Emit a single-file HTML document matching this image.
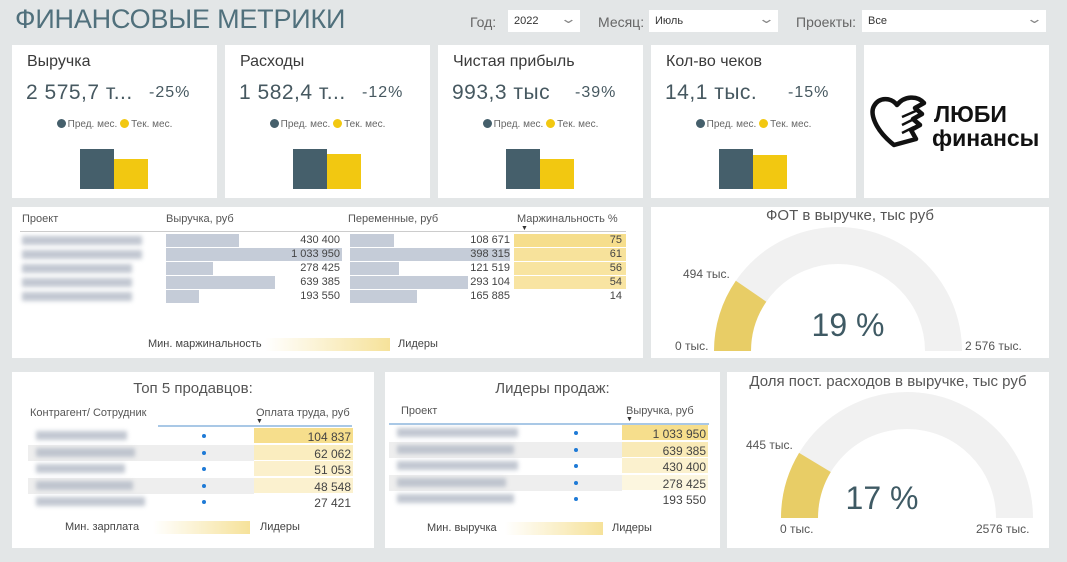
<!DOCTYPE html>
<html><head><meta charset="utf-8">
<style>
*{margin:0;padding:0;box-sizing:border-box}
body{width:1067px;height:562px;background:#e3e6e7;font-family:"Liberation Sans",sans-serif;position:relative;overflow:hidden;color:#444}
.abs{position:absolute}
.panel{position:absolute;background:#fff}
.title{left:15px;top:4px;font-size:27px;color:#50707c;letter-spacing:-0.2px}
.flab{font-size:14px;color:#666;top:14px}
.dd{background:#fff;height:22px;top:10px;font-size:11px;color:#333;padding:5px 6px}
.dd span.ch{position:absolute;right:6px;top:1px;color:#888;font-size:13px;transform:scaleX(1.6)}
.kt{font-size:16px;color:#3a3a3a;position:absolute;left:15px;top:8px}
.kv{font-size:21px;color:#465860;position:absolute;left:14px;top:36px;letter-spacing:0.5px}
.kp{font-size:16px;color:#465860;position:absolute;left:137px;top:39px;letter-spacing:1px}
.leg{position:absolute;top:74px;left:0;width:205px;text-align:center;font-size:10px;color:#666}
.dot{display:inline-block;width:9px;height:9px;border-radius:50%;vertical-align:-1px;margin-right:2px}
.hd{font-size:11px;color:#555;position:absolute}
.num{font-size:11px;color:#444;position:absolute;text-align:right}
.blur{position:absolute;height:9px;background:#b3bac6;filter:blur(2px);opacity:.8}
.grad{position:absolute;height:13px;background:linear-gradient(90deg,#fff,#f6e29a)}
.lt{position:absolute;font-size:11px;color:#444}
.gt{position:absolute;font-size:15px;color:#555;text-align:center}
.gl{position:absolute;font-size:12px;color:#555}
.gv{position:absolute;font-size:32px;color:#3f5a64;text-align:center}
</style></head><body>
<div class="abs title">ФИНАНСОВЫЕ МЕТРИКИ</div>
<div class="abs flab" style="left:470px">Год:</div>
<div class="abs dd" style="left:508px;width:72px">2022<span class="ch">⌄</span></div>
<div class="abs flab" style="left:598px">Месяц:</div>
<div class="abs dd" style="left:649px;width:129px">Июль<span class="ch">⌄</span></div>
<div class="abs flab" style="left:796px">Проекты:</div>
<div class="abs dd" style="left:862px;width:184px">Все<span class="ch">⌄</span></div>

<div id="kpis"></div>

<div class="panel" style="left:864px;top:45px;width:185px;height:153px">
<svg width="185" height="153">
<path d="M30 100 C10 84 6 68 10 61 C15 52 27 52 33 60 C40 51 53 50 60 58 L51 63 L58 69 L49 74 L56 80 L47 85 L52 94 Z" fill="none" stroke="#111" stroke-width="4.5" stroke-linejoin="round"/>
<path d="M38 72 L54 65 M38 80 L52 73 M38 88 L50 82" stroke="#111" stroke-width="2.5"/>
<text x="70" y="77" font-family="Liberation Sans" font-weight="bold" font-size="23" fill="#111">ЛЮБИ</text>
<text x="68" y="101" font-family="Liberation Sans" font-weight="bold" font-size="23" fill="#111">финансы</text>
</svg></div>

<div class="panel" style="left:12px;top:207px;width:631px;height:151px" id="tbl">
<div class="hd" style="left:10px;top:6px">Проект</div>
<div class="hd" style="left:154px;top:6px">Выручка, руб</div>
<div class="hd" style="left:336px;top:6px">Переменные, руб</div>
<div class="hd" style="left:505px;top:6px">Маржинальность %</div>
<div class="abs" style="left:509px;top:18px;font-size:7px;color:#333">▼</div>
<div class="abs" style="left:8px;top:24px;width:606px;height:1px;background:#ccc"></div>
<div class="lt" style="left:136px;top:131px">Мин. маржинальность</div>
<div class="grad" style="left:253px;top:131px;width:125px"></div>
<div class="lt" style="left:386px;top:131px">Лидеры</div>
</div>

<div class="panel" style="left:12px;top:372px;width:362px;height:176px" id="sellers">
<div class="gt" style="left:0;width:362px;top:8px">Топ 5 продавцов:</div>
<div class="hd" style="left:18px;top:35px">Контрагент/ Сотрудник</div>
<div class="hd" style="left:244px;top:35px">Оплата труда, руб</div>
<div class="abs" style="left:244px;top:46px;font-size:7px;color:#333">▼</div>
<div class="abs" style="left:146px;top:53px;width:194px;height:2px;background:#a9c8e6"></div>
<div class="lt" style="left:53px;top:149px">Мин. зарплата</div>
<div class="grad" style="left:141px;top:149px;width:97px"></div>
<div class="lt" style="left:248px;top:149px">Лидеры</div>
</div>

<div class="panel" style="left:385px;top:372px;width:335px;height:176px" id="leaders">
<div class="gt" style="left:0;width:335px;top:8px">Лидеры продаж:</div>
<div class="hd" style="left:16px;top:33px">Проект</div>
<div class="hd" style="left:241px;top:33px">Выручка, руб</div>
<div class="abs" style="left:241px;top:44px;font-size:7px;color:#333">▼</div>
<div class="abs" style="left:4px;top:51px;width:320px;height:2px;background:#a9c8e6"></div>
<div class="lt" style="left:42px;top:150px">Мин. выручка</div>
<div class="grad" style="left:120px;top:150px;width:98px"></div>
<div class="lt" style="left:227px;top:150px">Лидеры</div>
</div>

<div class="panel" style="left:651px;top:207px;width:398px;height:151px" id="g1"></div>
<div class="panel" style="left:727px;top:372px;width:322px;height:176px" id="g2"></div>

<script>
// KPI data
const kpiTitles=["Выручка","Расходы","Чистая прибыль","Кол-во чеков"];
const kpiValues=["2 575,7 т...","1 582,4 т...","993,3 тыс","14,1 тыс."];
const kpiPct=["-25%","-12%","-39%","-15%"];
const kpiPrev=[3434,1798,1330,16.6];
const kpiCur=[2575.7,1582.4,993.3,14.1];

// project table data
const projNames=["Жилой комплекс Шелковый","Жилой комплекс Царицыно","Солнечные Лодочки","Жилой комплекс Тёплый","Жилой комплекс Лесной"];
const projRevenue=[430400,1033950,278425,639385,193550];
const projVariable=[108671,398315,121519,293104,165885];
const projMargin=[75,61,56,54,14];
const projRevLabels=["430 400","1 033 950","278 425","639 385","193 550"];
const projVarLabels=["108 671","398 315","121 519","293 104","165 885"];

// sellers
const sellerNames=["Пр. Иван","Пр. Виктория","Пр.Илья","Пр. Евгений","Пр. Марина Булаев"];
const sellerPay=[104837,62062,51053,48548,27421];
const sellerLabels=["104 837","62 062","51 053","48 548","27 421"];

// sales leaders
const leaderNames=["Жилой комплекс Царицыно","Жилой комплекс Тёплый","Жилой комплекс Шелковый","Солнечные Лодочки","Жилой комплекс Лесной"];
const leaderRevenue=[1033950,639385,430400,278425,193550];
const leaderLabels=["1 033 950","639 385","430 400","278 425","193 550"];

// gauges
const gaugeTitles=["ФОТ в выручке, тыс руб","Доля пост. расходов в выручке, тыс руб"];
const gaugeValues=[494,445];
const gaugeMax=[2576,2576];
const gaugeValLabels=["494 тыс.","445 тыс."];
const gaugeMaxLabels=["2 576 тыс.","2576 тыс."];
const gaugePct=["19 %","17 %"];

function yel(t){
  const r=Math.round(255+(246-255)*t),g=Math.round(255+(222-255)*t),b=Math.round(255+(140-255)*t);
  return `rgb(${r},${g},${b})`;
}

const kx=[12,225,438,651];
const kpis=document.getElementById('kpis');
kpiTitles.forEach((t,i)=>{
  const p=document.createElement('div');
  p.className='panel';
  p.style.cssText=`left:${kx[i]}px;top:45px;width:205px;height:153px`;
  
  
  const mx=Math.max(kpiPrev[i],kpiCur[i]);
  const hP=40*kpiPrev[i]/mx, hC=40*kpiCur[i]/mx;
  p.innerHTML=`<div class="kt">${t}</div><div class="kv">${kpiValues[i]}</div><div class="kp">${kpiPct[i]}</div>
  <div class="leg"><span class="dot" style="background:#455f6b"></span>Пред. мес. <span class="dot" style="background:#f2c811"></span>Тек. мес.</div>
  <div class="abs bp" style="left:68px;top:${144-hP}px;width:34px;height:${hP}px;background:#455f6b"></div>
  <div class="abs bc" style="left:102px;top:${144-hC}px;width:34px;height:${hC}px;background:#f2c811"></div>`;
  kpis.appendChild(p);
  p.querySelector('.kt');
  p.querySelector('.kt');
  p.querySelector('.kv');
  p.querySelector('.kv');
  p.querySelector('.kp');
  p.querySelector('.kp');
  p.querySelector('.bp');
  p.querySelector('.bp');
  p.querySelector('.bc');
  p.querySelector('.bc');
});

const tbl=document.getElementById('tbl');
const rMax=Math.max(...projRevenue), vMax=Math.max(...projVariable);
const mMin=Math.min(...projMargin), mMx=Math.max(...projMargin);
projNames.forEach((n,i)=>{
  const y=27+i*14;
  const b=document.createElement('div');
  b.className='blur';b.style.cssText+=`left:10px;top:${y+2}px;width:${105+n.length%4*5}px`;
  
  
  tbl.appendChild(b);
  const rb=document.createElement('div');
  rb.className='abs';rb.style.cssText=`left:154px;top:${y}px;height:13px;width:${176*projRevenue[i]/rMax}px;background:#c5ccd8`;
  
  
  tbl.appendChild(rb);
  const rn=document.createElement('div');
  rn.className='num';rn.style.cssText+=`left:228px;width:100px;top:${y}px`;rn.textContent=projRevLabels[i];
  
  
  tbl.appendChild(rn);
  const vb=document.createElement('div');
  vb.className='abs';vb.style.cssText=`left:338px;top:${y}px;height:13px;width:${160*projVariable[i]/vMax}px;background:#c5ccd8`;
  
  
  tbl.appendChild(vb);
  const vn=document.createElement('div');
  vn.className='num';vn.style.cssText+=`left:398px;width:100px;top:${y}px`;vn.textContent=projVarLabels[i];
  
  
  tbl.appendChild(vn);
  const t=(projMargin[i]-mMin)/(mMx-mMin);
  const mc=document.createElement('div');
  mc.className='num';mc.style.cssText+=`left:502px;width:112px;top:${y}px;height:13px;padding-right:4px;background:${t>0?yel(0.45+0.55*t):'#fff'}`;mc.textContent=projMargin[i];
  
  
  tbl.appendChild(mc);
});

function rankTable(host,names,vals,labels,y0,dotX,cellL,cellW,rowW){
  const mn=Math.min(...vals),mx=Math.max(...vals);
  names.forEach((n,i)=>{
    const y=y0+i*16.5;
    const row=document.createElement('div');
    row.className='abs';row.style.cssText=`left:${cellL-rowW}px;top:${y}px;width:${rowW}px;height:16px;background:${i%2?'#eeeeee':'#fff'}`;
    
    
    host.appendChild(row);
    const b=document.createElement('div');
    b.className='blur';b.style.cssText+=`left:${cellL-rowW+8}px;top:${y+3}px;width:${75+n.length*2}px`;
    
    
    host.appendChild(b);
    const d=document.createElement('div');
    d.className='abs';d.style.cssText=`left:${dotX}px;top:${y+6}px;width:4px;height:4px;border-radius:50%;background:#1e7ad6`;
    
    
    host.appendChild(d);
    const t=(vals[i]-mn)/(mx-mn);
    const c=document.createElement('div');
    c.className='num';c.style.cssText+=`left:${cellL}px;width:${cellW}px;top:${y}px;height:16px;padding:2px 2px 0 0;font-size:12px;border-bottom:1px solid #fff;background:${t>0?yel(0.2+0.8*t):'#fff'}`;
    c.textContent=labels[i];
    
    
    host.appendChild(c);
  });
}
rankTable(document.getElementById('sellers'),sellerNames,sellerPay,sellerLabels,56,190,242,99,226);
rankTable(document.getElementById('leaders'),leaderNames,leaderRevenue,leaderLabels,53,189,237,86,233);

const gcfg=[{host:'g1',cx:187,cy:144,R:124,r:87,tw:398,ty:0,vl:[32,60],zl:[24,132],ml:[314,132],pv:[197,100]},
            {host:'g2',cx:180,cy:146,R:126,r:89,tw:322,ty:1,vl:[19,66],zl:[53,150],ml:[249,150],pv:[155,108]}];
gcfg.forEach((g,i)=>{
  const h=document.getElementById(g.host);
  const W=h.offsetWidth,H=h.offsetHeight;
  const frac=gaugeValues[i]/gaugeMax[i];
  const pt=(rad,a)=>[g.cx-rad*Math.cos(a),g.cy-rad*Math.sin(a)];
  const arc=(a0,a1)=>{const [x0,y0]=pt(g.R,a0),[x1,y1]=pt(g.R,a1),[x2,y2]=pt(g.r,a1),[x3,y3]=pt(g.r,a0);
    return `M${x0},${y0} A${g.R},${g.R} 0 0 1 ${x1},${y1} L${x2},${y2} A${g.r},${g.r} 0 0 0 ${x3},${y3} Z`;};
  const ns='http://www.w3.org/2000/svg';
  const svg=document.createElementNS(ns,'svg');
  svg.setAttribute('width',W);svg.setAttribute('height',H);svg.style.position='absolute';svg.style.left='0';svg.style.top='0';
  const bg=document.createElementNS(ns,'path');bg.setAttribute('d',arc(0,Math.PI));bg.setAttribute('fill','#f1f1f1');
  
  
  const fg=document.createElementNS(ns,'path');fg.setAttribute('d',arc(0,Math.PI*frac));fg.setAttribute('fill','#e8cd66');
  
  
  svg.appendChild(bg);svg.appendChild(fg);h.appendChild(svg);
  const add=(cls,txt,css,name)=>{const e=document.createElement('div');e.className=cls;e.textContent=txt;e.style.cssText+=css;
    
    
    h.appendChild(e);};
  add('gt',gaugeTitles[i],`left:0;width:${g.tw}px;top:${g.ty}px`,'gauge-title');
  add('gl',gaugeValLabels[i],`left:${g.vl[0]}px;top:${g.vl[1]}px`,'gauge-value-label');
  add('gl','0 тыс.',`left:${g.zl[0]}px;top:${g.zl[1]}px`,'gauge-min-label');
  add('gl',gaugeMaxLabels[i],`left:${g.ml[0]}px;top:${g.ml[1]}px`,'gauge-max-label');
  add('gv',gaugePct[i],`left:${g.pv[0]-60}px;width:120px;top:${g.pv[1]}px`,'gauge-percent');
});
</script>
</body></html>
